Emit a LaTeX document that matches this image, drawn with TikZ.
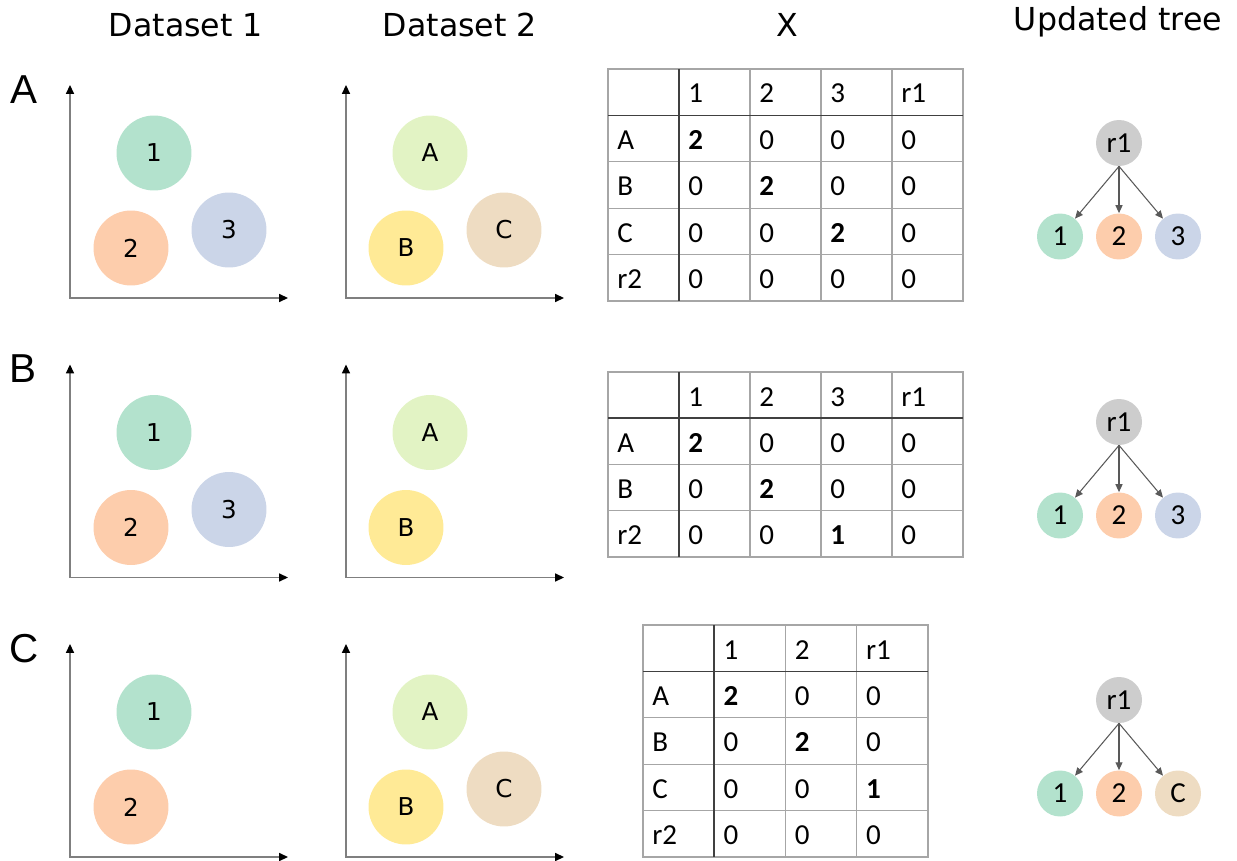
\documentclass[tikz,border=0pt]{standalone}
\usepackage{fontspec}
\setmainfont{DejaVu Sans}
\newfontfamily\calib{Carlito}
\newfontfamily\arial{Liberation Sans}
\usetikzlibrary{arrows.meta}

\definecolor{pone}{HTML}{B3E2CD}
\definecolor{ptwo}{HTML}{FDCDAC}
\definecolor{pthree}{HTML}{CBD5E8}
\definecolor{pA}{HTML}{E2F3C4}
\definecolor{pB}{HTML}{FFEA96}
\definecolor{pC}{HTML}{EEDCC2}
\definecolor{proot}{HTML}{CDCDCD}
\definecolor{axisgray}{HTML}{7F7F7F}
\definecolor{rulegray}{HTML}{A6A6A6}
\definecolor{arrowgray}{HTML}{595959}

\tikzset{
  axisline/.style={draw=axisgray,line width=0.85pt,
    {Triangle[length=5pt,width=4.5pt,color=black]}-{Triangle[length=5pt,width=4.5pt,color=black]}},
  blob/.style={circle,minimum size=1.5cm,inner sep=0pt,font=\fontsize{14}{16}\selectfont},
  leaf/.style={circle,minimum size=0.92cm,inner sep=0pt,font=\calib\fontsize{16.5}{18}\selectfont},
  treearrow/.style={draw=arrowgray,line width=0.6pt,-{Triangle[length=4.5pt,width=4pt]}},
  thinrule/.style={draw=rulegray,line width=0.75pt},
  darkrule/.style={draw=black!75,line width=0.9pt},
  cell/.style={anchor=base west,inner sep=0pt,font=\calib\fontsize{16.5}{19}\selectfont},
  coltitle/.style={anchor=base,font=\fontsize{18}{21}\selectfont},
  panel/.style={font=\arial\fontsize{23}{26}\selectfont}
}

\begin{document}
\begin{tikzpicture}[x=0.02cm,y=-0.02cm]
  \useasboundingbox (0,0) rectangle (1237,861);

  % column headings
  \node[coltitle] (h-d1) at (186,37) {Dataset 1};
  \node[coltitle] (h-d2) at (460,37) {Dataset 2};
  \node[coltitle] (h-x) at (787,37) {X};
  \node[coltitle] (h-tree) at (1118,31) {Updated tree};

  % panel letters
  \node[panel] (lab-a) at (24,90) {A};
  \node[panel] (lab-b) at (23,369) {B};
  \node[panel] (lab-c) at (24,649) {C};

  % axes and clusters, one row per case
  \foreach \r/\dy in {a/0,b/279.5,c/559} {
    \foreach \dx in {0,276}
      \draw[axisline] (70+\dx,85+\dy) -- (70+\dx,298+\dy) -- (288+\dx,298+\dy);
    \node[blob,fill=pone] (p\r-1) at (154,153+\dy) {1};
    \node[blob,fill=ptwo] (p\r-2) at (131,248+\dy) {2};
    \node[blob,fill=pA] (q\r-A) at (430,153+\dy) {A};
    \node[blob,fill=pB] (q\r-B) at (406,248+\dy) {B};
  }
  \node[blob,fill=pthree] (pa-3) at (229,230) {3};
  \node[blob,fill=pthree] (pb-3) at (229,509.5) {3};
  \node[blob,fill=pC] (qa-C) at (504,230) {C};
  \node[blob,fill=pC] (qc-C) at (504,789) {C};

  % matrix X, case A
  \begin{scope}[shift={(608,69)}]
    \foreach \k in {1,...,4} {
      \draw[thinrule] (71*\k,0) -- (71*\k,232);
      \draw[thinrule] (0,46.4*\k) -- (355,46.4*\k);
    }
    \draw[thinrule] (0,0) rectangle (355,232);
    \draw[darkrule] (71,0) -- (71,232) (0,46.4) -- (355,46.4);
    \foreach \cells [count=\i from 0] in {{{},1,2,3,r1},{A,\textbf{2},0,0,0},{B,0,\textbf{2},0,0},{C,0,0,\textbf{2},0},{r2,0,0,0,0}}
      \foreach \c [count=\j from 0] in \cells
        \node[cell] (xa-\i-\j) at (71*\j+9,46.4*\i+34) {\c};
  \end{scope}

  % matrix X, case B
  \begin{scope}[shift={(608,372)}]
    \foreach \k in {1,...,4}
      \draw[thinrule] (71*\k,0) -- (71*\k,185);
    \foreach \k in {1,...,3}
      \draw[thinrule] (0,46.25*\k) -- (355,46.25*\k);
    \draw[thinrule] (0,0) rectangle (355,185);
    \draw[darkrule] (71,0) -- (71,185) (0,46.25) -- (355,46.25);
    \foreach \cells [count=\i from 0] in {{{},1,2,3,r1},{A,\textbf{2},0,0,0},{B,0,\textbf{2},0,0},{r2,0,0,\textbf{1},0}}
      \foreach \c [count=\j from 0] in \cells
        \node[cell] (xb-\i-\j) at (71*\j+9,46.25*\i+34) {\c};
  \end{scope}

  % matrix X, case C
  \begin{scope}[shift={(643,625)}]
    \foreach \k in {1,...,3}
      \draw[thinrule] (71.25*\k,0) -- (71.25*\k,232);
    \foreach \k in {1,...,4}
      \draw[thinrule] (0,46.4*\k) -- (285,46.4*\k);
    \draw[thinrule] (0,0) rectangle (285,232);
    \draw[darkrule] (71.25,0) -- (71.25,232) (0,46.4) -- (285,46.4);
    \foreach \cells [count=\i from 0] in {{{},1,2,r1},{A,\textbf{2},0,0},{B,0,\textbf{2},0},{C,0,0,\textbf{1}},{r2,0,0,0}}
      \foreach \c [count=\j from 0] in \cells
        \node[cell] (xc-\i-\j) at (71.25*\j+9,46.4*\i+34) {\c};
  \end{scope}

  % updated trees
  \foreach \t/\ty/\last/\lastcol in {a/143/3/pthree,b/422/3/pthree,c/700/C/pC} {
    \node[leaf,fill=proot] (t\t-r) at (1119,\ty) {r1};
    \node[leaf,fill=pone] (t\t-1) at (1060,\ty+93.5) {1};
    \node[leaf,fill=ptwo] (t\t-2) at (1119,\ty+93.5) {2};
    \node[leaf,fill=\lastcol] (t\t-3) at (1178,\ty+93.5) {\last};
    \foreach \k in {1,2,3}
      \draw[treearrow] (t\t-r.south) -- (t\t-\k);
  }
\end{tikzpicture}
\end{document}
